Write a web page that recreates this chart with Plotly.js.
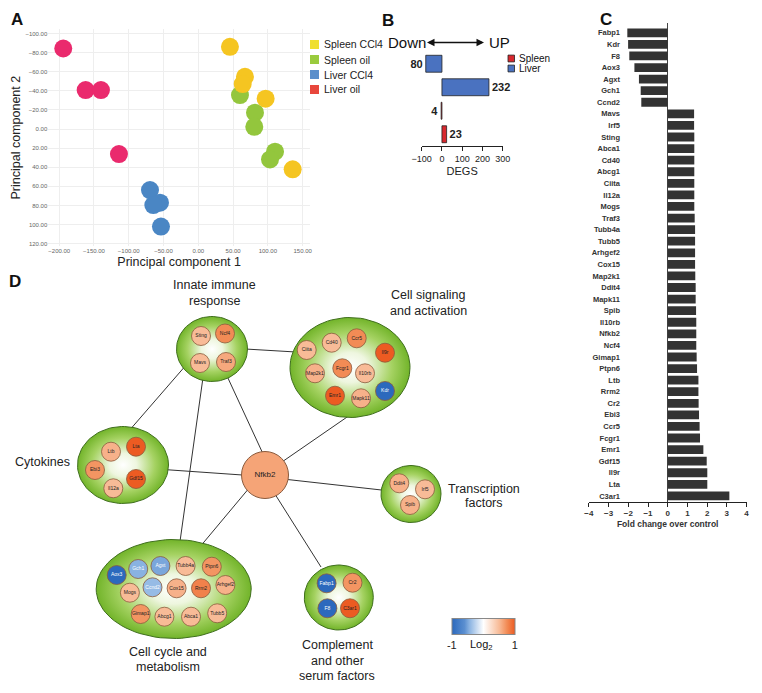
<!DOCTYPE html>
<html><head><meta charset="utf-8">
<script src="https://cdn.plot.ly/plotly-3.0.1.min.js"></script>
<style>html,body{margin:0;padding:0;background:#fff}#chart{width:762px;height:693px}</style>
</head><body><div id="chart"></div>
<script>
// ---------- Panel A: PCA ----------
const pcaGroups = ['Spleen CCl4', 'Spleen oil', 'Liver CCl4', 'Liver oil'];
const spleenCCl4PC1 = [45.5, 67.1, 63.8, 96.8, 135.7];
const spleenCCl4PC2 = [-86.2, -54.8, -47.1, -31.8, 42.2];
const spleenOilPC1 = [59.9, 81.5, 80.5, 110.3, 103.1];
const spleenOilPC2 = [-35.6, -17.1, -2.4, 23.7, 31.8];
const liverCCl4PC1 = [-69.5, -55.1, -64.7, -53.7];
const liverCCl4PC2 = [63.9, 77.1, 79.6, 102.2];
const liverOilPC1 = [-194.2, -162, -140, -114.1];
const liverOilPC2 = [-84.4, -40.8, -40.8, 26.2];
const pcaXTicks = [-200, -150, -100, -50, 0, 50, 100, 150];
const pcaYTicks = [-100, -80, -60, -40, -20, 0, 20, 40, 60, 80, 100, 120];

// ---------- Panel B: DEGs ----------
const degTissues = ['Liver', 'Spleen'];
const degDown = [80, 4];
const degUp = [232, 23];
const degTicks = [-100, 0, 100, 200, 300];
const degLegendOrder = ['Spleen', 'Liver'];

// ---------- Panel C: fold change ----------
const fcGenes = ['Fabp1','Kdr','F8','Aox3','Agxt','Gch1','Ccnd2','Mavs','Irf5','Sting','Abca1','Cd40','Abcg1','Ciita','Il12a','Mogs','Traf3','Tubb4a','Tubb5','Arhgef2','Cox15','Map2k1','Ddit4','Mapk11','Spib','Il10rb','Nfkb2','Ncf4','Gimap1','Ptpn6','Ltb','Rrm2','Cr2','Ebi3','Ccr5','Fcgr1','Emr1','Gdf15','Il9r','Lta','C3ar1'];
const fcValues = [-2.05,-2.01,-1.95,-1.69,-1.46,-1.37,-1.34,1.34,1.34,1.35,1.35,1.35,1.35,1.35,1.35,1.35,1.37,1.39,1.39,1.39,1.39,1.40,1.42,1.42,1.44,1.45,1.45,1.45,1.47,1.49,1.56,1.56,1.57,1.59,1.62,1.64,1.81,1.98,2.01,2.01,3.13];
const fcTicks = [-4, -3, -2, -1, 0, 1, 2, 3, 4];

// ---------- Panel D: network ----------
const netGroups = ['innate', 'signaling', 'cytokines', 'tf', 'cycle', 'complement'];
const netGenes = ['Sting','Ncf4','Mavs','Traf3',
  'Ciita','Cd40','Ccr5','Il9r','Map2k1','Fcgr1','Il10rb','Kdr','Emr1','Mapk11',
  'Ltb','Lta','Ebi3','Gdf15','Il12a',
  'Ddit4','Irf5','Spib',
  'Aox3','Gch1','Agxt','Tubb4a','Ptpn6','Mogs','Ccnd2','Cox15','Rrm2','Arhgef2','Gimap1','Abcg1','Abca1','Tubb5',
  'Fabp1','Cr2','F8','C3ar1'];
const netLog2 = [0.5,0.75,0.5,0.6,
  0.5,0.5,0.75,1.0,0.55,0.75,0.5,-1.0,1.0,0.55,
  0.55,1.0,0.7,1.0,0.5,
  0.55,0.5,0.55,
  -1.0,-0.45,-0.5,0.5,0.7,0.5,-0.4,0.55,0.8,0.55,0.7,0.5,0.5,0.5,
  -1.0,0.7,-1.0,1.0];
const hubGene = 'Nfkb2';
const hubLog2 = 0.62;
const netEdges = [['innate','signaling'],['innate','cytokines'],['innate','cycle'],['innate','hub'],
  ['cytokines','hub'],['hub','signaling'],['hub','tf'],['hub','cycle'],['hub','complement']];

// ---------- layout geometry (pixels) ----------
const W = 762, H = 693;
const groupShape = {
  innate: {cx: 212, cy: 349, rx: 35.5, ry: 32.5},
  signaling: {cx: 350, cy: 367.5, rx: 60, ry: 50},
  cytokines: {cx: 123, cy: 465, rx: 45.5, ry: 38.5},
  tf: {cx: 411, cy: 494, rx: 30, ry: 28.5},
  cycle: {cx: 173.7, cy: 589, rx: 77.5, ry: 49.5},
  complement: {cx: 338.8, cy: 597.5, rx: 34.5, ry: 32.5}
};
const hubPos = [265, 475];
const edgeEnds = {
  'innate-signaling': [[240, 348.7], [296, 352]],
  'innate-cytokines': [[187, 364], [128, 432]],
  'innate-cycle': [[203.5, 374], [179.5, 545]],
  'innate-hub': [[227, 376], [264, 456]],
  'cytokines-hub': [[165, 469.6], [248, 475.4]],
  'hub-signaling': [[279, 464], [350, 415]],
  'hub-tf': [[283, 479], [386, 490.5]],
  'hub-cycle': [[250, 487], [199, 548]],
  'hub-complement': [[273, 491], [321, 567]]
};
const nodePos = {
  Sting:[201,336], Ncf4:[225,333.5], Mavs:[200,363], Traf3:[226,362],
  Ciita:[306.7,350], Cd40:[331.7,342.7], Ccr5:[356.7,338.3], Il9r:[385,352.7], Map2k1:[315,373.3],
  Fcgr1:[342.3,368.3], Il10rb:[365,373.3], Kdr:[385,391], Emr1:[335,395.7], Mapk11:[361,398.3],
  Ltb:[111,451.7], Lta:[136,446.7], Ebi3:[95,470], Gdf15:[136,479], Il12a:[113.3,488.3],
  Ddit4:[399.3,483.3], Irf5:[425,489.3], Spib:[410,505],
  Aox3:[116.7,575], Gch1:[138.2,569], Agxt:[160.4,566], Tubb4a:[185.6,566], Ptpn6:[211.8,566.7],
  Mogs:[129.9,592.7], Ccnd2:[152.5,587.3], Cox15:[176.6,588.3], Rrm2:[201,588.3], Arhgef2:[225.4,585],
  Gimap1:[140.7,614], Abcg1:[164.4,616.7], Abca1:[191,616.7], Tubb5:[217.2,613.3],
  Fabp1:[326.6,583.3], Cr2:[352.5,582.7], F8:[327.4,608.3], C3ar1:[350,608.3]
};
const groupTitles = [
  {t: 'Innate immune', x: 214, y: 285}, {t: 'response', x: 214, y: 300.7},
  {t: 'Cell signaling', x: 428, y: 295}, {t: 'and activation', x: 428, y: 310.7},
  {t: 'Cytokines', x: 42.7, y: 461.7},
  {t: 'Transcription', x: 484, y: 489}, {t: 'factors', x: 484, y: 503.5},
  {t: 'Cell cycle and', x: 168, y: 651.7}, {t: 'metabolism', x: 168, y: 667.3},
  {t: 'Complement', x: 337.4, y: 645}, {t: 'and other', x: 337.4, y: 660.7}, {t: 'serum factors', x: 337.4, y: 676}
];

const F = 'Liberation Sans, Arial, sans-serif';
const FN = 'Liberation Sans Narrow, Arial Narrow, Liberation Sans, sans-serif';
const px = (x) => x / W;
const py = (y) => 1 - y / H;

const traces = [];
const shapes = [];
const annotations = [];

// Panel A points
const pcaColors = ['#f5c521', '#93c63d', '#4a86c4', '#ea2a6d'];
const pcaLegendColors = ['#efdf2e', '#9acb3d', '#5b8fcb', '#e8473c'];
const pcaX = [spleenCCl4PC1, spleenOilPC1, liverCCl4PC1, liverOilPC1];
const pcaY = [spleenCCl4PC2, spleenOilPC2, liverCCl4PC2, liverOilPC2];
[1, 0, 2, 3].forEach(i => {
  traces.push({type: 'scatter', mode: 'markers', x: pcaX[i], y: pcaY[i], xaxis: 'x', yaxis: 'y', name: pcaGroups[i],
    marker: {color: pcaColors[i], size: 18, line: {width: 0}}, showlegend: false, hoverinfo: 'skip'});
});
// Panel A legend (swatches + labels)
pcaGroups.forEach((g, k) => {
  const yc = 44.5 + k * 15;
  shapes.push({type: 'rect', xref: 'paper', yref: 'paper', x0: px(310), x1: px(319), y0: py(yc + 4.5), y1: py(yc - 4.5),
    fillcolor: pcaLegendColors[k], line: {width: 0}});
  annotations.push({text: g, x: px(322), y: py(yc), xanchor: 'left', font: {size: 10.5, color: '#222'}});
});

// Panel B bars
const degColors = {Liver: '#4a72c0', Spleen: '#d8282e'};
const degCats = [];
degTissues.forEach(t => { degCats.push(t + ' down', t + ' up'); });
degTissues.forEach((t, i) => {
  traces.push({type: 'bar', orientation: 'h', name: t, xaxis: 'x2', yaxis: 'y2', showlegend: false,
    x: [-degDown[i], degUp[i]], y: [t + ' down', t + ' up'], width: 0.72,
    text: [String(degDown[i]), String(degUp[i])], textposition: 'outside', cliponaxis: false,
    textfont: {family: FN, size: 11, weight: 700, color: '#222'},
    marker: {color: degColors[t], line: {color: '#222', width: 0.8}}, hoverinfo: 'skip'});
});
// Panel B legend
degLegendOrder.forEach((t, k) => {
  const yc = 58.5 + k * 10;
  shapes.push({type: 'rect', xref: 'paper', yref: 'paper', x0: px(508), x1: px(514.5), y0: py(yc + 3.4), y1: py(yc - 3.4),
    fillcolor: degColors[t], line: {color: '#222', width: 0.8}});
  annotations.push({text: t, x: px(517), y: py(yc), xanchor: 'left', font: {size: 10}});
});

// Panel C bars
traces.push({type: 'bar', orientation: 'h', x: fcValues, y: fcGenes, xaxis: 'x3', yaxis: 'y3', width: 0.76,
  marker: {color: '#333333', line: {width: 0}}, showlegend: false, hoverinfo: 'skip'});

// Panel D: edges
const ex = [], ey = [];
netEdges.forEach(e => {
  const seg = edgeEnds[e[0] + '-' + e[1]];
  ex.push(seg[0][0], seg[1][0], null); ey.push(seg[0][1], seg[1][1], null);
});
traces.push({type: 'scatter', mode: 'lines', x: ex, y: ey, xaxis: 'x4', yaxis: 'y4',
  line: {color: '#333', width: 1}, showlegend: false, hoverinfo: 'skip'});

// Panel D: group ellipses
netGroups.forEach(g => {
  const s = groupShape[g]; const xs = [], ys = [];
  for (let k = 0; k <= 90; k++) { const a = k / 90 * 2 * Math.PI; xs.push(s.cx + s.rx * Math.cos(a)); ys.push(s.cy + s.ry * Math.sin(a)); }
  traces.push({type: 'scatter', mode: 'lines', x: xs, y: ys, xaxis: 'x4', yaxis: 'y4', fill: 'toself',
    fillgradient: {type: 'radial', colorscale: [[0, '#ffffff'], [0.3, '#eef6df'], [0.7, '#a5d262'], [1, '#72b42a']]},
    line: {color: '#3f6f1d', width: 1}, showlegend: false, hoverinfo: 'skip'});
});

const netScale = [[0, '#2c69bd'], [0.2, '#5b8fd0'], [0.28, '#8cb4e2'], [0.5, '#ffffff'], [0.75, '#f8bb97'], [0.875, '#f28b55'], [1, '#ec5b22']];

// Hub
traces.push({type: 'scatter', mode: 'markers+text', x: [hubPos[0]], y: [hubPos[1]], xaxis: 'x4', yaxis: 'y4',
  text: [hubGene], textfont: {family: F, size: 8, color: '#222'},
  marker: {size: 47, color: [hubLog2], colorscale: netScale, cmin: -1, cmax: 1, showscale: false, line: {color: '#8a5a3c', width: 1}},
  showlegend: false, hoverinfo: 'skip'});

// Genes
traces.push({type: 'scatter', mode: 'markers+text', xaxis: 'x4', yaxis: 'y4',
  x: netGenes.map(g => nodePos[g][0]), y: netGenes.map(g => nodePos[g][1]), text: netGenes,
  textposition: 'middle center', cliponaxis: false,
  textfont: {family: F, size: 5, color: netLog2.map(v => v < -0.3 ? '#ffffff' : '#222')},
  marker: {size: 19, color: netLog2, colorscale: netScale, cmin: -1, cmax: 1, line: {color: '#8a5a3c', width: 0.8},
    showscale: true,
    colorbar: {orientation: 'h', x: px(483.3), xanchor: 'center', y: py(633), yanchor: 'middle',
      len: 63, lenmode: 'pixels', thickness: 16, thicknessmode: 'pixels', outlinecolor: '#888', outlinewidth: 1,
      tickvals: [-1, 1], ticktext: ['-1', '1'], ticks: '', tickfont: {family: F, size: 11, color: '#222'}, xpad: 0, ypad: 0}},
  showlegend: false, hoverinfo: 'skip'});

annotations.push(
  {text: '<b>A</b>', x: px(17), y: py(20), font: {size: 17}},
  {text: '<b>B</b>', x: px(388), y: py(21), font: {size: 17}},
  {text: '<b>C</b>', x: px(606), y: py(20), font: {size: 17}},
  {text: '<b>D</b>', x: px(15), y: py(281), font: {size: 17}},
  {text: 'Down', x: px(484), y: py(42.5), ax: -(484 - 406.5), ay: 0, showarrow: true, arrowside: 'end+start',
    arrowhead: 2, startarrowhead: 2, arrowsize: 1, arrowwidth: 1.5, arrowcolor: '#111', font: {family: FN, size: 15}},
  {text: 'UP', x: px(487), y: py(42.5), xanchor: 'left', font: {family: FN, size: 15}},
  {text: 'Log<sub>2</sub>', x: px(481), y: py(645), font: {size: 11}}
);
groupTitles.forEach(g => annotations.push({text: g.t, x: px(g.x), y: py(g.y), font: {size: 12.5, color: '#222'}}));
annotations.forEach(a => { a.xref = 'paper'; a.yref = 'paper'; if (!a.showarrow) a.showarrow = false; if (!a.xanchor) a.xanchor = 'center'; a.yanchor = 'middle'; a.font = Object.assign({family: F, color: '#111'}, a.font); });

const layout = {
  width: W, height: H, margin: {l: 0, r: 0, t: 0, b: 0}, paper_bgcolor: '#ffffff', plot_bgcolor: 'rgba(0,0,0,0)',
  font: {family: F, color: '#222'}, barmode: 'overlay', hovermode: false, showlegend: false,
  shapes: shapes,
  xaxis: {domain: [px(48.3), px(310)], range: [-215.7, 160.6], tickvals: pcaXTicks, tickformat: '.2f', anchor: 'y',
    tickfont: {size: 6, color: '#666'}, showgrid: true, gridcolor: '#eeeeee', zeroline: false, showline: false, ticks: '',
    title: {text: 'Principal component 1', font: {size: 12.5, color: '#222'}, standoff: 4}},
  yaxis: {domain: [py(246), py(29.3)], range: [122.5, -104.5], tickvals: pcaYTicks, tickformat: '.2f', anchor: 'x',
    tickfont: {size: 6, color: '#666'}, showgrid: true, gridcolor: '#eeeeee', zeroline: false, showline: false, ticks: '',
    title: {text: 'Principal component 2', font: {size: 12.5, color: '#222'}, standoff: 2}},
  xaxis2: {domain: [px(421.7), px(502.7)], range: [-100, 300], tickvals: degTicks, anchor: 'y2', ticks: 'outside', ticklen: 4,
    tickcolor: '#222', showline: true, linecolor: '#222', linewidth: 1, zeroline: false, showgrid: false,
    tickfont: {family: FN, size: 9, color: '#222'}, title: {text: 'DEGS', font: {size: 11, color: '#222'}, standoff: 4}},
  yaxis2: {domain: [py(146), py(52)], type: 'category', categoryorder: 'array', categoryarray: degCats, range: [3.5, -0.5],
    anchor: 'x2', showticklabels: false, showgrid: false, zeroline: false, showline: false, ticks: ''},
  xaxis3: {domain: [px(588.9), px(746.5)], range: [-4, 4], tickvals: fcTicks, anchor: 'y3', ticks: 'outside', ticklen: 4,
    tickcolor: '#222', showline: true, linecolor: '#222', linewidth: 1, zeroline: true, zerolinecolor: '#444', zerolinewidth: 1,
    showgrid: false, tickfont: {size: 8, color: '#333', weight: 700},
    title: {text: 'Fold change over control', font: {size: 8.5, color: '#333', weight: 700}, standoff: 3}},
  yaxis3: {domain: [py(501.7), py(23)], type: 'category', categoryorder: 'array', categoryarray: fcGenes, range: [40.5, -0.846],
    anchor: 'free', position: px(620), showgrid: false, zeroline: false, showline: false, ticks: '',
    tickfont: {size: 7.5, color: '#333', weight: 700}},
  xaxis4: {domain: [0, 1], range: [0, W], anchor: 'y4', visible: false},
  yaxis4: {domain: [0, py(270)], range: [H, 270], anchor: 'x4', visible: false},
  annotations: annotations
};

Plotly.newPlot('chart', traces, layout, {displayModeBar: false, staticPlot: true});
</script></body></html>
